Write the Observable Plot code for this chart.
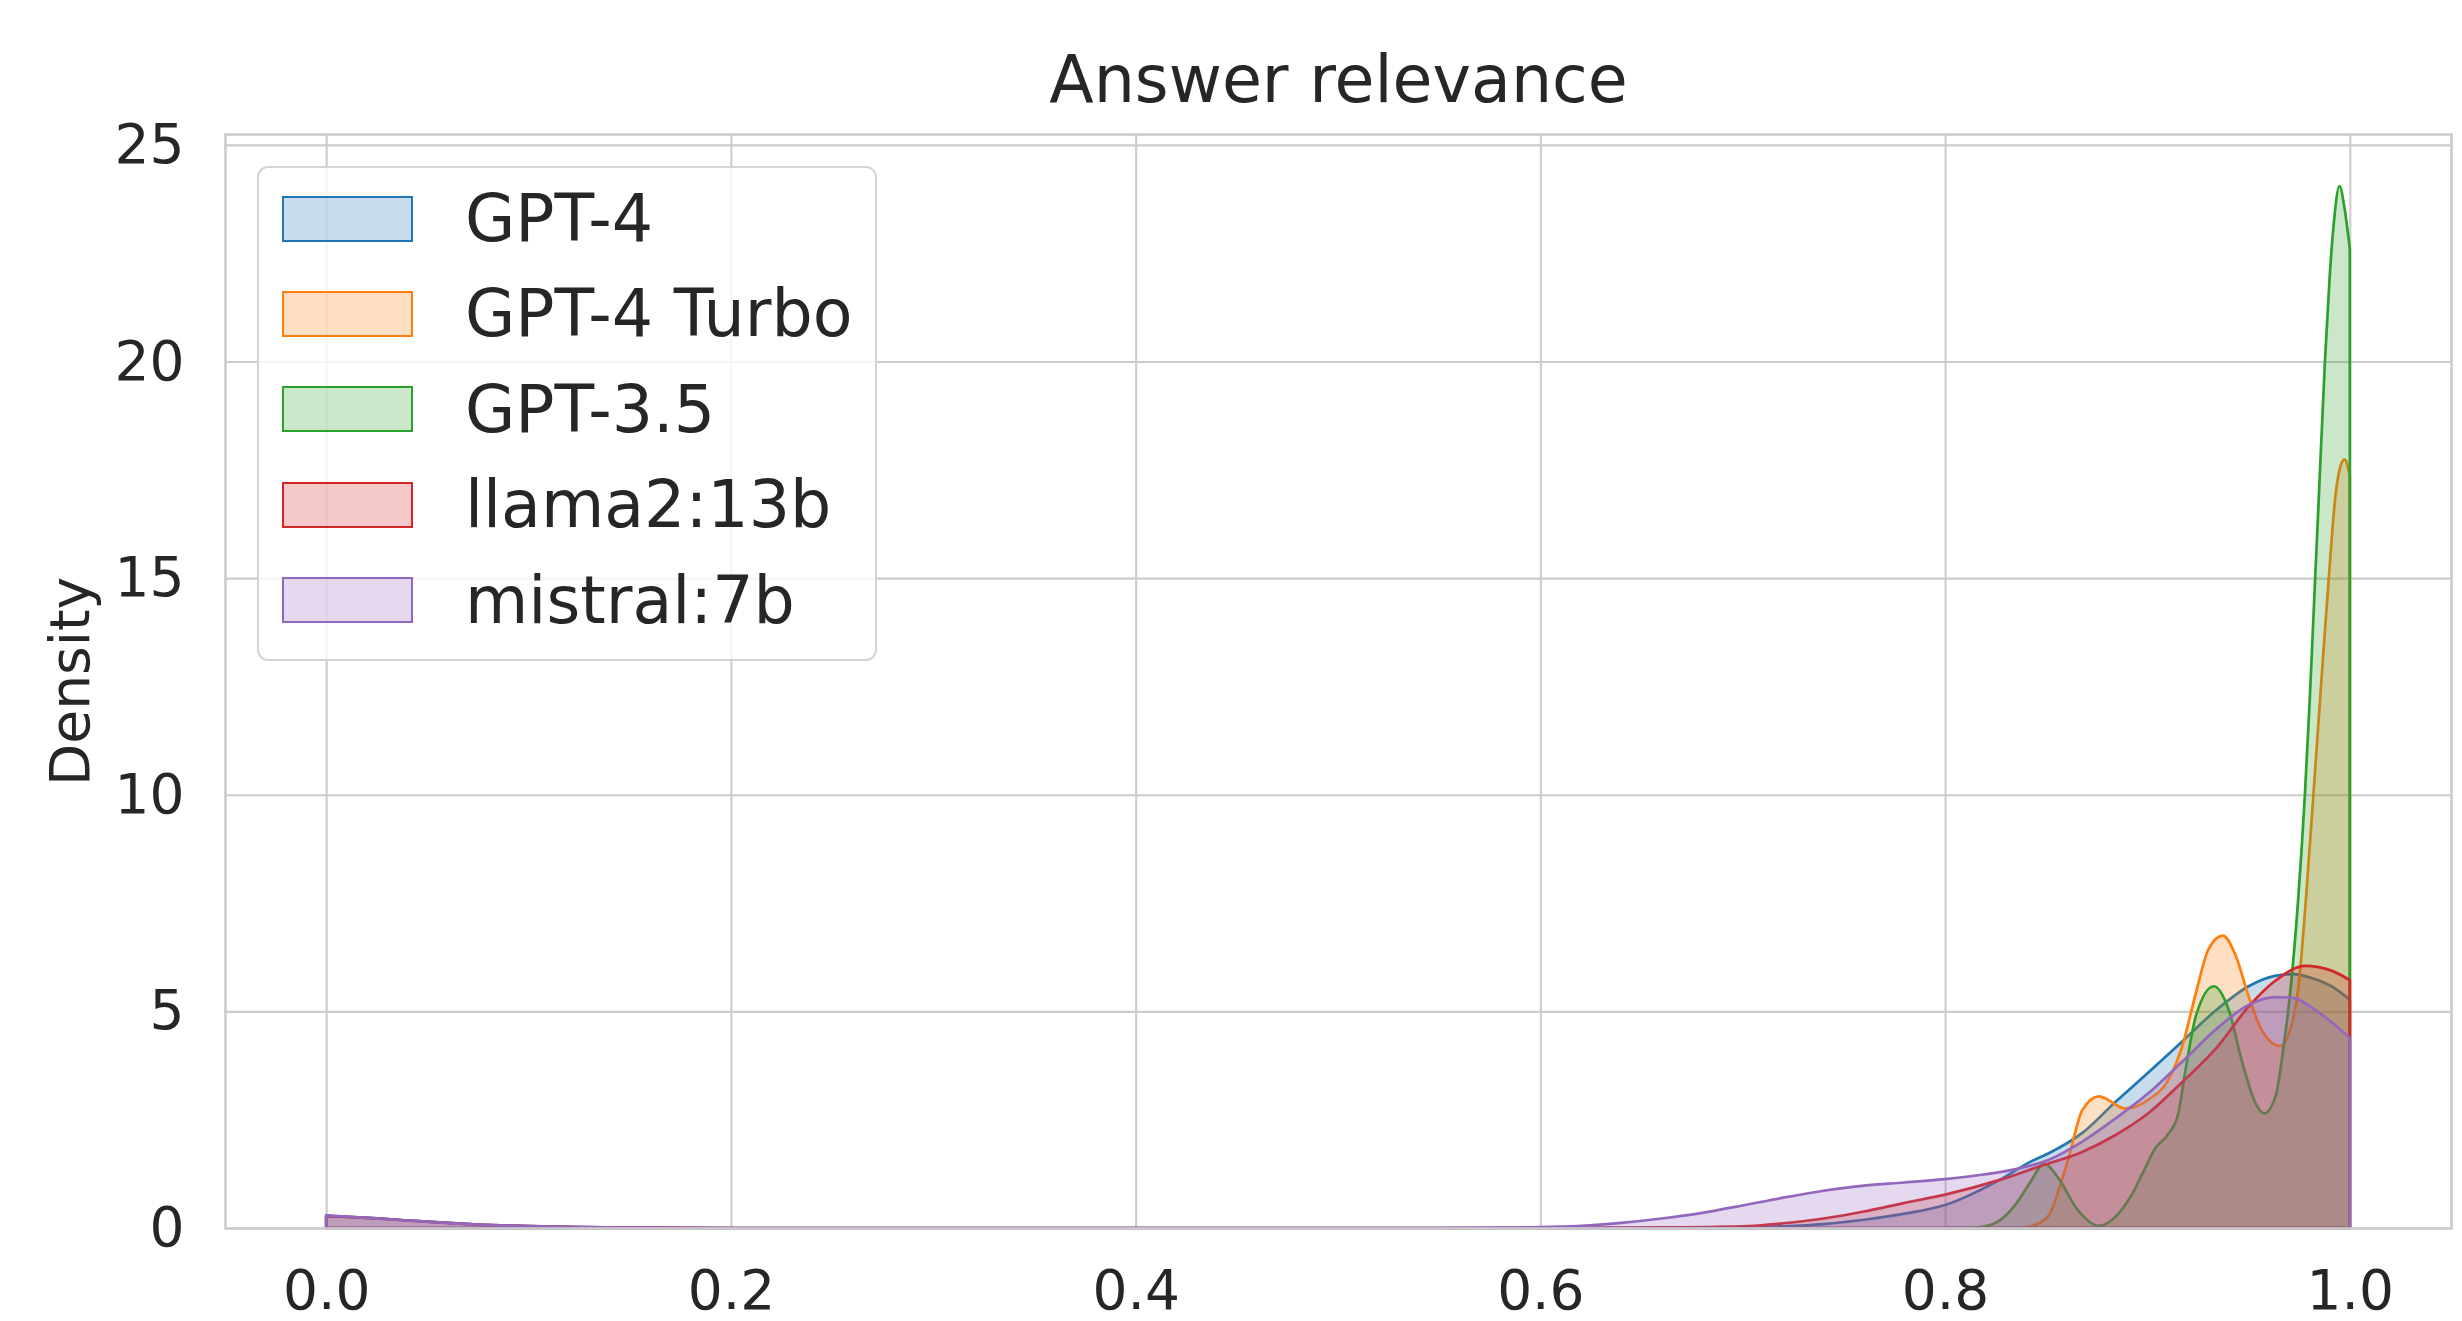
<!DOCTYPE html>
<html>
<head>
<meta charset="utf-8">
<script src="https://cdn.jsdelivr.net/npm/d3@7"></script>
<script src="https://cdn.jsdelivr.net/npm/@observablehq/plot@0.6"></script>
<style>
  html, body { margin: 0; padding: 0; background: #ffffff; }
  #wrap { position: relative; width: 2462px; height: 1321px; font-family: "DejaVu Sans", sans-serif; color: #262626; overflow: hidden; }
  #chart { position: absolute; left: 0; top: 0; }
  #legendBox { position: absolute; left: 257px; top: 166px; width: 620px; height: 495px; box-sizing: border-box;
               border: 2.5px solid #d4d4d4; border-radius: 11px; background: rgba(255,255,255,0.8); }
  .sw { position: absolute; left: 282px; width: 131px; height: 46px; box-sizing: border-box; border: 2.7px solid; }
  .lab { position: absolute; left: 465px; font-size: 65px; line-height: 65px; white-space: nowrap; color: #262626; }
</style>
</head>
<body>
<div id="wrap">
  <div id="chart"></div>
  <div id="legendBox"></div>
</div>
<script>
// ---- data ----
const title = "Answer relevance";
const yLabel = "Density";
const models = ["GPT-4", "GPT-4 Turbo", "GPT-3.5", "llama2:13b", "mistral:7b"];
const colors = ["#1f77b4", "#ff7f0e", "#2ca02c", "#d62728", "#9467bd"];
const xTicks = [0.0, 0.2, 0.4, 0.6, 0.8, 1.0];
const yTicks = [0, 5, 10, 15, 20, 25];

// [score, density]
const gpt4 = [
  [0.0, 0.28], [0.025, 0.22], [0.05, 0.145], [0.075, 0.08], [0.1, 0.043], [0.125, 0.02], [0.15, 0.008], [0.2, 0.0],
  [0.6, 0.0], [0.66, 0.005], [0.70, 0.02], [0.72, 0.04], [0.74, 0.09], [0.76, 0.19], [0.78, 0.33], [0.80, 0.53],
  [0.827, 1.11], [0.843, 1.55], [0.851, 1.72], [0.868, 2.2], [0.884, 2.9], [0.9007, 3.6], [0.917, 4.3],
  [0.934, 5.03], [0.95, 5.58], [0.963, 5.82], [0.972, 5.86], [0.983, 5.74], [0.992, 5.55], [1.0, 5.27]
];
const gpt4Turbo = [
  [0.82, 0.0], [0.835, 0.0], [0.84, 0.02], [0.846, 0.1], [0.8514, 0.3], [0.8563, 0.9], [0.8612, 1.65], [0.8678, 2.72],
  [0.876, 3.04], [0.889, 2.76], [0.9007, 2.97], [0.9106, 3.44], [0.9172, 4.2], [0.9238, 5.4], [0.9303, 6.45],
  [0.9373, 6.75], [0.9435, 6.3], [0.95, 5.35], [0.9566, 4.55], [0.9657, 4.2], [0.970, 4.5], [0.9747, 5.6],
  [0.978, 7.4], [0.982, 10.0], [0.9862, 12.8], [0.9896, 15.0], [0.9929, 16.9], [0.9955, 17.6], [0.9974, 17.74], [1.0, 17.35]
];
const gpt35 = [
  [0.80, 0.0], [0.815, 0.01], [0.825, 0.12], [0.835, 0.55], [0.842, 1.05], [0.849, 1.48], [0.856, 1.15], [0.865, 0.45],
  [0.876, 0.05], [0.884, 0.25], [0.892, 0.75], [0.898, 1.3], [0.904, 1.85], [0.910, 2.15], [0.915, 2.6], [0.919, 3.7],
  [0.924, 4.9], [0.9328, 5.58], [0.9402, 5.03], [0.9468, 3.83], [0.9534, 2.88], [0.9575, 2.64], [0.9633, 3.04],
  [0.9674, 4.23], [0.970, 5.2], [0.9745, 7.6], [0.9778, 10.0], [0.9802, 12.2], [0.9825, 14.6], [0.985, 17.2],
  [0.9877, 20.0], [0.9901, 22.0], [0.9921, 23.2], [0.9949, 24.05], [0.9975, 23.5], [1.0, 22.6]
];
const llama2 = [
  [0.0, 0.28], [0.025, 0.22], [0.05, 0.145], [0.075, 0.08], [0.1, 0.043], [0.125, 0.02], [0.15, 0.008], [0.2, 0.0],
  [0.6, 0.0], [0.65, 0.01], [0.70, 0.04], [0.72, 0.11], [0.74, 0.22], [0.76, 0.38], [0.78, 0.58], [0.80, 0.77],
  [0.827, 1.11], [0.8465, 1.42], [0.868, 1.76], [0.884, 2.14], [0.9007, 2.66], [0.917, 3.36], [0.934, 4.15],
  [0.95, 5.11], [0.963, 5.7], [0.978, 6.05], [0.991, 5.94], [1.0, 5.72]
];
const mistral = [
  [0.0, 0.29], [0.025, 0.22], [0.05, 0.145], [0.075, 0.08], [0.1, 0.043], [0.125, 0.02], [0.15, 0.008], [0.2, 0.0],
  [0.55, 0.0], [0.60, 0.02], [0.62, 0.05], [0.64, 0.12], [0.66, 0.22], [0.68, 0.35], [0.70, 0.52], [0.72, 0.70],
  [0.74, 0.86], [0.76, 0.98], [0.78, 1.05], [0.80, 1.13], [0.82, 1.24], [0.835, 1.36], [0.851, 1.57], [0.868, 2.0],
  [0.884, 2.52], [0.9007, 3.12], [0.917, 3.83], [0.934, 4.59], [0.95, 5.15], [0.963, 5.33], [0.972, 5.31],
  [0.983, 5.03], [1.0, 4.39]
];
const seriesValues = [gpt4, gpt4Turbo, gpt35, llama2, mistral];

// ---- build ----
const areaMarks = seriesValues.map((vals, i) =>
  Plot.areaY(vals.map(([x, y]) => ({x, y, model: models[i]})), {
    x: "x", y: "y",
    fill: colors[i], fillOpacity: 0.25,
    stroke: colors[i], strokeWidth: 2.7, strokeLinejoin: "round",
    curve: "monotone-x"
  })
);

const chart = Plot.plot({
  width: 2462,
  height: 1321,
  marginLeft: 225,
  marginRight: 11,
  marginTop: 134,
  marginBottom: 93,
  style: {fontFamily: "DejaVu Sans, sans-serif", fontSize: "55px", color: "#262626", background: "#ffffff"},
  x: {domain: [-0.05, 1.05]},
  y: {domain: [0, 25.25]},
  marks: [
    Plot.gridX(xTicks, {stroke: "#cccccc", strokeOpacity: 1, strokeWidth: 2.1}),
    Plot.gridY(yTicks, {stroke: "#cccccc", strokeOpacity: 1, strokeWidth: 2.1}),
    ...areaMarks,
    Plot.frame({stroke: "#cccccc", strokeWidth: 2.6}),
    Plot.axisX(xTicks, {tickSize: 0, tickPadding: 41, tickFormat: d3.format(".1f"), label: null, fontSize: 55, fill: "#262626"}),
    Plot.axisY(yTicks, {tickSize: 0, tickPadding: 41, label: null, fontSize: 55, fill: "#262626"}),
    Plot.text([yLabel], {frameAnchor: "left", textAnchor: "middle", dx: -137, rotate: -90, lineAnchor: "bottom", fontSize: 55, fill: "#262626"}),
    Plot.text([title], {frameAnchor: "top", textAnchor: "middle", dy: -33, lineAnchor: "bottom", fontSize: 65, fill: "#262626"})
  ]
});
document.getElementById("chart").appendChild(chart);

// ---- legend ----
const wrap = document.getElementById("wrap");
models.forEach((m, i) => {
  const cy = 218.5 + 95.4 * i;
  const sw = document.createElement("div");
  sw.className = "sw";
  sw.style.top = (cy - 23) + "px";
  sw.style.borderColor = colors[i];
  const c = d3.color(colors[i]); c.opacity = 0.25;
  sw.style.background = c.formatRgb();
  wrap.appendChild(sw);
  const lab = document.createElement("div");
  lab.className = "lab";
  lab.style.top = (cy + 22.5 - 55) + "px";
  lab.textContent = m;
  wrap.appendChild(lab);
});
</script>
</body>
</html>
